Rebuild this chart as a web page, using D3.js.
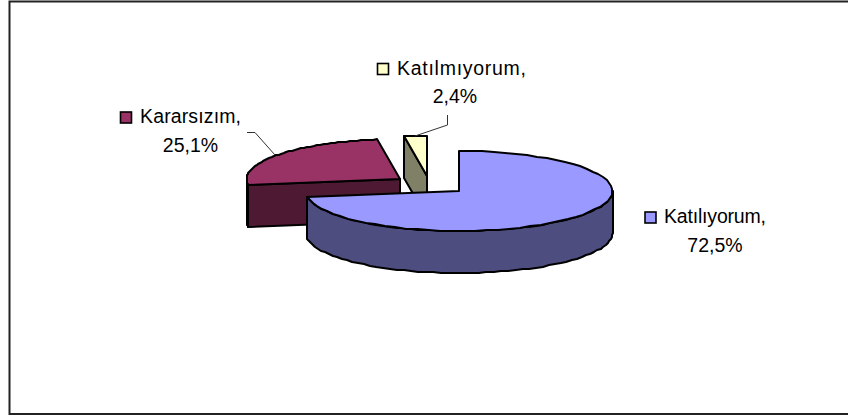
<!DOCTYPE html>
<html><head><meta charset="utf-8">
<script src="https://cdn.jsdelivr.net/npm/d3@7"></script>
<style>html,body{margin:0;padding:0;background:#fff}svg{display:block}text{font-family:"Liberation Sans",Arial,sans-serif;font-size:19.5px;fill:#000}</style>
</head><body>
<svg width="848" height="416"></svg>
<script>
const categories = ["Katılıyorum", "Kararsızım", "Katılmıyorum"];
const percents = [72.5, 25.1, 2.4];
const valueLabels = ["72,5%", "25,1%", "2,4%"];
const topColors = ["#9999ff", "#993366", "#ffffcc"];
const sideColors = ["#4d4d80", "#4d1933", "#808066"];

const svg = d3.select("svg");
svg.append("path").attr("d", "M848,1.5H9.5V414H848").attr("fill", "none").attr("stroke", "#222").attr("stroke-width", 2);

const arcs = d3.pie().sort(null).startAngle(0).endAngle(2 * Math.PI)(percents);
const rx = d3.scaleLinear().domain([0, 1]).range([0, 153.5]);
const ry = d3.scaleLinear().domain([0, 1]).range([0, 40]);
const depth = 42;
const centers = [[459, 191], [400, 179], [427, 176]];
const line = d3.line();
const pt = (c, a, dz = 0) => [Math.round(c[0] + rx(Math.sin(a))), Math.round(c[1] - ry(Math.cos(a)) + dz)];
const rim = (c, a0, a1, dz = 0) => d3.range(0, 61).map(i => pt(c, a0 + (a1 - a0) * i / 60, dz));
const draw = (d, fill) => svg.append("path").attr("d", d).attr("fill", fill)
  .attr("stroke", "#000").attr("stroke-width", 2).attr("stroke-linejoin", "round");

// back to front: small slice, middle slice, large slice
[2, 1, 0].forEach(i => {
  const s = arcs[i], c = centers[i], a0 = s.startAngle, a1 = s.endAngle;
  if (i > 0) draw(line([c, pt(c, a0), pt(c, a0, depth), [c[0], c[1] + depth]]) + "Z", sideColors[i]);
  // outer wall: only the part facing the viewer
  const w0 = Math.max(a0, Math.PI / 2), w1 = Math.min(a1, 3 * Math.PI / 2);
  if (w1 > w0) draw(line([...rim(c, w0, w1), ...rim(c, w1, w0, depth)]) + "Z", sideColors[i]);
  draw(line([c, ...rim(c, a0, a1)]) + "Z", topColors[i]);
});

const labels = [
  {i: 0, kx: 645, ky: 212, x: 664, tx: 715, l1: 223, l2: 252, len: 102},
  {i: 1, kx: 120.5, ky: 112, x: 140, tx: 190.5, l1: 123, l2: 152, len: 101},
  {i: 2, kx: 377.5, ky: 63.5, x: 397, tx: 455, l1: 75, l2: 103, len: 129}
];
labels.forEach(o => {
  svg.append("rect").attr("x", o.kx).attr("y", o.ky).attr("width", 11).attr("height", 11)
    .attr("fill", topColors[o.i]).attr("stroke", "#000").attr("stroke-width", 1.6);
  svg.append("text").attr("x", o.x).attr("y", o.l1).attr("textLength", o.len).text(categories[o.i] + ",");
  svg.append("text").attr("x", o.tx).attr("y", o.l2).attr("text-anchor", "middle").text(valueLabels[o.i]);
});

const leaders = [
  [[247, 132.5], [255, 132.5], [275, 155]],
  [[447.5, 115], [447.5, 125], [415, 136]]
];
leaders.forEach(l => svg.append("path").attr("d", line(l)).attr("fill", "none").attr("stroke", "#333").attr("stroke-width", 1));
</script>
</body></html>
